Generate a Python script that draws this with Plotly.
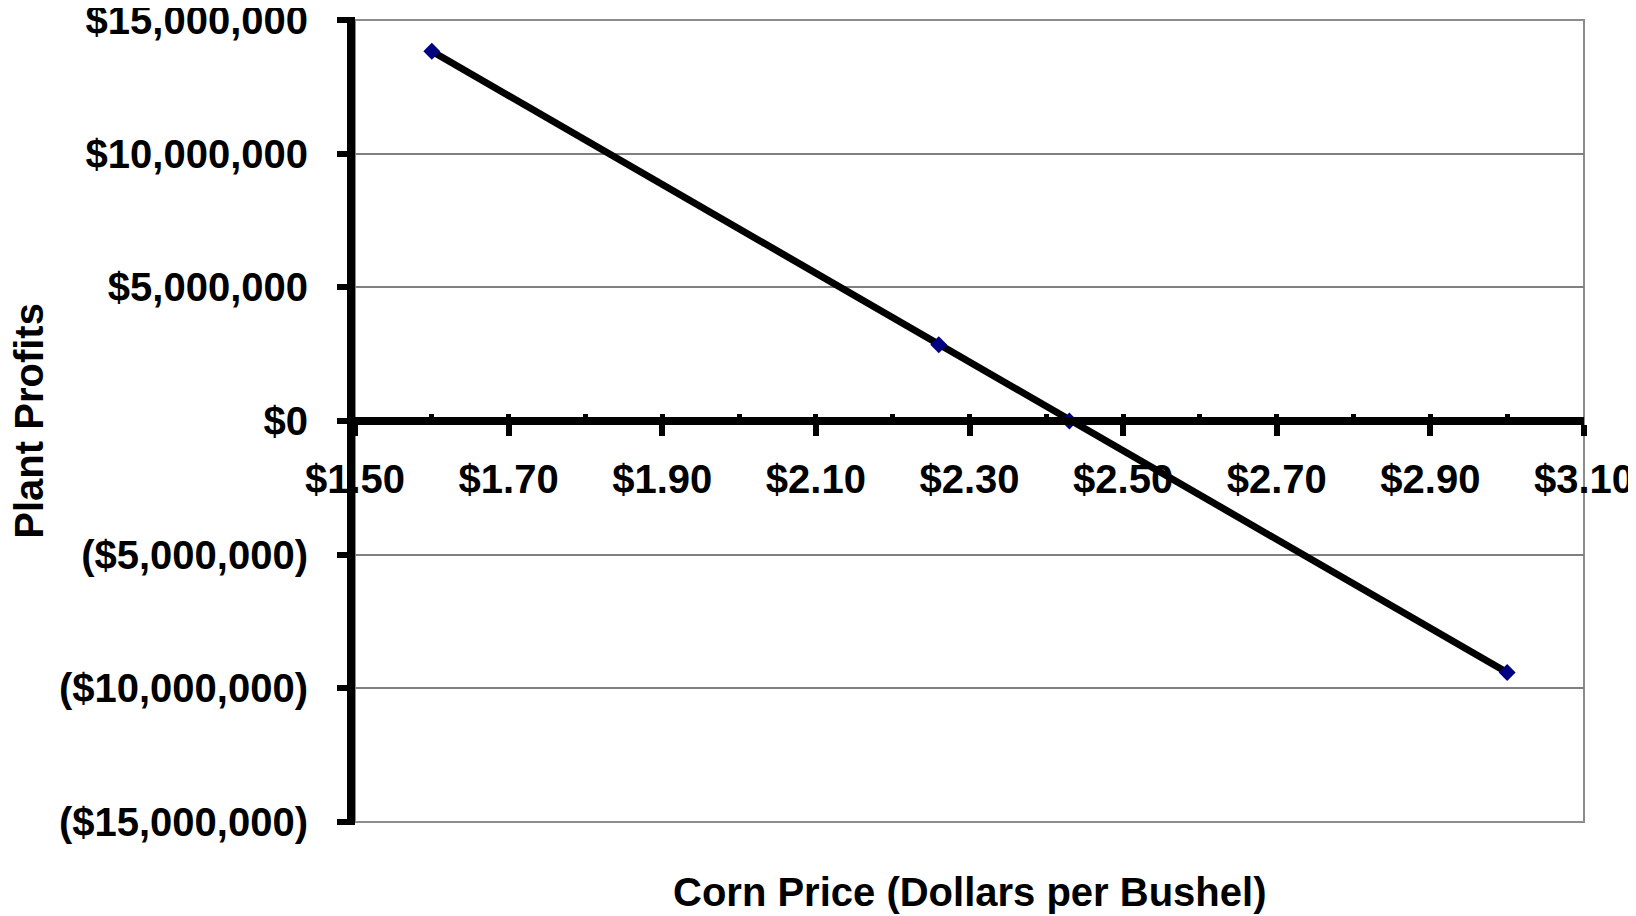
import plotly.graph_objects as go

# Corn price ($/bushel) vs plant profits ($)
corn_price = [1.60, 2.26, 2.43, 3.00]
plant_profits = [13_830_000, 2_850_000, 0, -9_410_000]

y_tick_vals = [-15_000_000, -10_000_000, -5_000_000, 0, 5_000_000, 10_000_000, 15_000_000]
y_tick_text = ["($15,000,000)", "($10,000,000)", "($5,000,000)", "$0",
               "$5,000,000", "$10,000,000", "$15,000,000"]

FONT = "Liberation Sans, Arial, sans-serif"
Y_RANGE = [-15_000_000, 15_000_000]

fig = go.Figure()

fig.add_trace(go.Scatter(
    x=corn_price,
    y=plant_profits,
    mode="lines+markers",
    line=dict(color="black", width=7),
    marker=dict(symbol="diamond", size=13, color="#000080"),
    showlegend=False,
    xaxis="x",
    yaxis="y",
))

# invisible trace so the overlay axes (inner x ticks, y ticks/labels) get drawn
fig.add_trace(go.Scatter(x=[1.5], y=[0], mode="markers", marker=dict(opacity=0),
                         xaxis="x2", yaxis="y2", showlegend=False, hoverinfo="skip"))

# plot area frame
fig.add_shape(type="rect", xref="x domain", yref="y domain",
              x0=0, x1=1, y0=0, y1=1,
              line=dict(color="#8c8c8c", width=2), layer="below")

# page body offsets the figure by 8px; margins account for that
fig.update_layout(
    template="none",
    width=1636,
    height=916,
    margin=dict(l=347, r=60, t=12, b=102),
    paper_bgcolor="white",
    plot_bgcolor="white",
    font=dict(family=FONT, size=40, color="black"),
    xaxis=dict(
        range=[1.5, 3.1],
        tick0=1.5,
        dtick=0.2,
        tickformat="$.2f",
        anchor="free",
        position=0.5,
        automargin=False,
        showline=True,
        linecolor="black",
        linewidth=8,
        ticks="outside",
        ticklen=11,
        tickwidth=6,
        tickcolor="black",
        ticklabelstandoff=9,
        ticklabeloverflow="allow",
        showgrid=False,
        zeroline=False,
        tickfont=dict(family=FONT, size=40, color="black", weight="bold"),
    ),
    # inner half of the crossing ticks, plus minor ticks
    xaxis2=dict(
        overlaying="x",
        matches="x",
        anchor="free",
        position=0.5,
        automargin=False,
        tick0=1.5,
        dtick=0.1,
        ticks="inside",
        ticklen=7,
        tickwidth=5,
        tickcolor="black",
        showticklabels=False,
        showline=False,
        showgrid=False,
        zeroline=False,
    ),
    # axis line and gridlines
    yaxis=dict(
        range=Y_RANGE,
        tickvals=y_tick_vals,
        showticklabels=False,
        automargin=False,
        showline=True,
        linecolor="black",
        linewidth=8,
        ticks="",
        showgrid=True,
        gridcolor="#808080",
        gridwidth=1.5,
        zeroline=False,
    ),
    # tick marks and labels
    yaxis2=dict(
        overlaying="y",
        matches="y",
        range=Y_RANGE,
        anchor="free",
        position=0,
        side="left",
        automargin=False,
        tickvals=y_tick_vals,
        ticktext=y_tick_text,
        ticks="outside",
        ticklen=18,
        tickwidth=6,
        tickcolor="black",
        ticklabelstandoff=21,
        ticklabeloverflow="allow",
        showline=False,
        showgrid=False,
        zeroline=False,
        tickfont=dict(family=FONT, size=40, color="black", weight="bold"),
    ),
    annotations=[
        dict(text="<b>Corn Price (Dollars per Bushel)</b>",
             xref="paper", yref="paper", x=0.5, y=-0.0873,
             xanchor="center", yanchor="middle", showarrow=False,
             font=dict(family=FONT, size=40, color="black")),
        dict(text="<b>Plant Profits</b>",
             xref="paper", yref="paper", x=-0.2655, y=0.5,
             xanchor="center", yanchor="middle", textangle=-90, showarrow=False,
             font=dict(family=FONT, size=40, color="black")),
    ],
)

fig.write_html("out.html")
